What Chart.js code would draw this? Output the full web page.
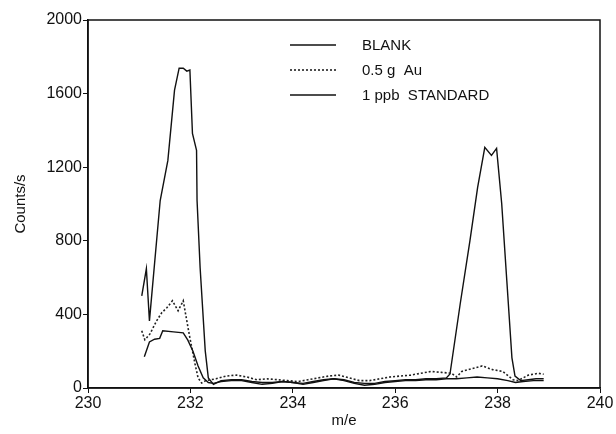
<!DOCTYPE html>
<html>
<head>
<meta charset="utf-8">
<script src="https://cdn.jsdelivr.net/npm/chart.js@4"></script>
<style>
  html, body { margin: 0; padding: 0; background: #fff; }
  #wrap { width: 616px; height: 434px; }
</style>
</head>
<body>
<div id="wrap"><canvas id="c" width="616" height="434"></canvas></div>
<script>
// m/e positions and counts/s
const stdX = [231.05, 231.14, 231.2, 231.41, 231.56, 231.69, 231.78, 231.86, 231.93, 231.99, 232.04, 232.12, 232.13, 232.19, 232.29, 232.35, 232.45, 232.6, 232.8, 233.0, 233.2, 233.4, 233.6, 233.8, 234.0, 234.2, 234.4, 234.6, 234.8, 235.0, 235.2, 235.4, 235.6, 235.8, 236.0, 236.2, 236.4, 236.6, 236.8, 237.0, 237.07, 237.27, 237.46, 237.61, 237.75, 237.88, 237.98, 238.08, 238.18, 238.28, 238.34, 238.45, 238.6, 238.75, 238.9];
const stdY = [501, 648, 365, 1019, 1237, 1619, 1738, 1738, 1722, 1728, 1384, 1292, 1019, 654, 202, 55, 20, 40, 45, 45, 35, 30, 30, 35, 30, 25, 35, 45, 50, 45, 30, 25, 25, 35, 40, 45, 45, 50, 50, 55, 76, 458, 801, 1090, 1308, 1264, 1302, 1003, 583, 164, 65, 40, 45, 50, 50];

const auX = [231.05, 231.11, 231.21, 231.34, 231.44, 231.54, 231.65, 231.76, 231.86, 231.93, 231.99, 232.04, 232.09, 232.15, 232.22, 232.3, 232.5, 232.7, 232.9, 233.1, 233.3, 233.5, 233.7, 233.9, 234.1, 234.3, 234.5, 234.7, 234.9, 235.1, 235.3, 235.5, 235.7, 235.9, 236.1, 236.3, 236.5, 236.7, 236.9, 237.1, 237.2, 237.3, 237.5, 237.7, 237.9, 238.1, 238.3, 238.4, 238.6, 238.8, 238.9];
const auY = [311, 262, 294, 365, 409, 436, 474, 420, 474, 365, 272, 202, 131, 55, 27, 40, 50, 65, 70, 60, 45, 50, 45, 40, 35, 45, 55, 65, 70, 55, 40, 40, 50, 60, 65, 70, 80, 90, 85, 80, 60, 90, 105, 120, 100, 90, 45, 40, 70, 80, 75];

const blankX = [231.1, 231.2, 231.3, 231.4, 231.46, 231.67, 231.86, 231.95, 232.05, 232.15, 232.25, 232.35, 232.45, 232.6, 232.8, 233.0, 233.2, 233.4, 233.6, 233.8, 234.0, 234.2, 234.4, 234.6, 234.8, 235.0, 235.2, 235.4, 235.6, 235.8, 236.0, 236.2, 236.4, 236.6, 236.8, 237.0, 237.2, 237.4, 237.6, 237.8, 238.0, 238.2, 238.35, 238.5, 238.7, 238.9];
const blankY = [170, 250, 265, 270, 311, 305, 300, 260, 200, 120, 55, 30, 25, 35, 40, 40, 30, 20, 25, 35, 30, 20, 30, 40, 50, 40, 25, 15, 20, 30, 35, 40, 40, 45, 45, 50, 50, 55, 60, 55, 50, 40, 30, 35, 40, 40];

const seriesNames = ["BLANK", "0.5 g  Au", "1 ppb  STANDARD"];
const xTicks = [230, 232, 234, 236, 238, 240];
const yTicks = [0, 400, 800, 1200, 1600, 2000];

const FONT = "'Liberation Sans', Arial, sans-serif";
const pts = (xs, ys) => xs.map((x, i) => ({ x: x, y: ys[i] }));

// box around the plot + legend drawn inside the plot area
const frameAndLegend = {
  id: "frameAndLegend",
  afterDraw(chart) {
    const ctx = chart.ctx, a = chart.chartArea;
    ctx.save();
    ctx.strokeStyle = "#111";
    ctx.lineWidth = 1.5;
    ctx.strokeRect(a.left, a.top, a.right - a.left, a.bottom - a.top);
    const rows = [45, 70, 95];
    chart.data.datasets.forEach((ds, i) => {
      const y = rows[i];
      ctx.beginPath();
      ctx.setLineDash(ds.borderDash || []);
      ctx.lineWidth = ds.borderWidth;
      ctx.strokeStyle = ds.borderColor;
      ctx.moveTo(290, y);
      ctx.lineTo(336, y);
      ctx.stroke();
      ctx.setLineDash([]);
      ctx.fillStyle = "#111";
      ctx.font = "15px " + FONT;
      ctx.textBaseline = "middle";
      ctx.fillText(ds.label, 362, y + 1);
    });
    ctx.restore();
  }
};

new Chart(document.getElementById("c"), {
  type: "line",
  data: {
    datasets: [
      { label: seriesNames[0], data: pts(blankX, blankY), borderColor: "#111", borderWidth: 1.4 },
      { label: seriesNames[1], data: pts(auX, auY), borderColor: "#222", borderWidth: 1.6, borderDash: [2, 2] },
      { label: seriesNames[2], data: pts(stdX, stdY), borderColor: "#111", borderWidth: 1.4 }
    ]
  },
  options: {
    responsive: false,
    animation: false,
    elements: { point: { radius: 0 }, line: { tension: 0 } },
    layout: { padding: { left: 0, right: 16, top: 20, bottom: 0 } },
    plugins: { legend: { display: false }, tooltip: { enabled: false } },
    scales: {
      x: {
        type: "linear", min: 230, max: 240,
        afterBuildTicks: s => { s.ticks = xTicks.map(v => ({ value: v })); },
        afterFit: s => { s.height = 46; },
        grid: { drawOnChartArea: false, color: "#111", tickLength: 5 },
        border: { color: "#111", width: 1.5 },
        ticks: { color: "#111", font: { family: FONT, size: 16 }, padding: 1, maxRotation: 0, callback: v => String(v) },
        title: { display: true, text: "m/e", color: "#111", font: { family: FONT, size: 15 }, padding: { top: 0 } }
      },
      y: {
        min: 0, max: 2000,
        afterBuildTicks: s => { s.ticks = yTicks.map(v => ({ value: v })); },
        afterFit: s => { s.width = 88; },
        grid: { drawOnChartArea: false, color: "#111", tickLength: 5 },
        border: { color: "#111", width: 1.5 },
        ticks: { color: "#111", font: { family: FONT, size: 16 }, padding: 1, callback: v => String(v) },
        title: { display: true, text: "Counts/s", color: "#111", font: { family: FONT, size: 15 }, padding: { top: 12, bottom: 0 } }
      }
    }
  },
  plugins: [frameAndLegend]
});
</script>
</body>
</html>
